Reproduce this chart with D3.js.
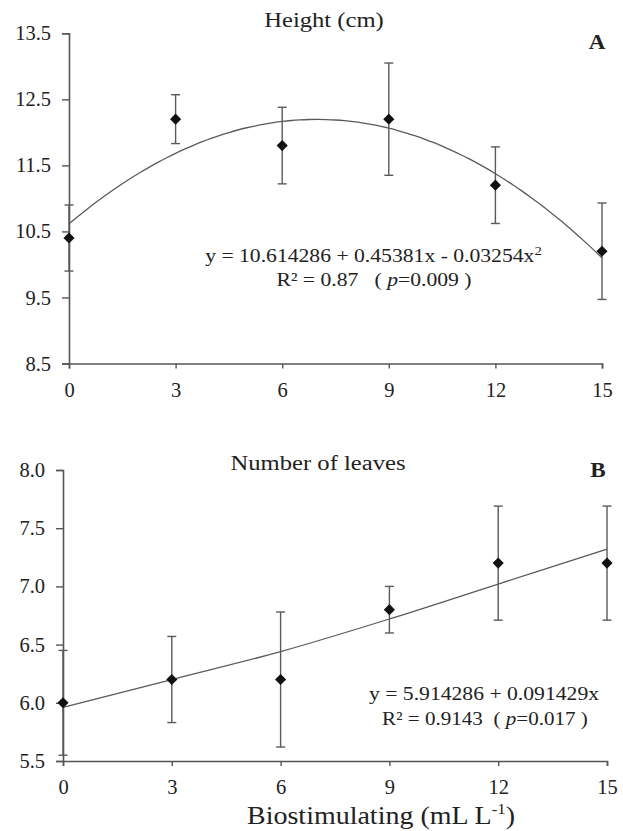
<!DOCTYPE html>
<html>
<head>
<meta charset="utf-8">
<script src="https://cdn.jsdelivr.net/npm/d3@7"></script>
<style>
  body { margin: 0; background: #fff; }
  svg { display: block; }
  svg text { font-family: "Liberation Serif", Tinos, "Times New Roman", Times, "DejaVu Serif", serif !important; fill: #222; }
</style>
</head>
<body>
<svg id="chart" width="623" height="831"></svg>
<script>
// ---- Data ----
const doses = [0, 3, 6, 9, 12, 15];
const xTicks = [0, 3, 6, 9, 12, 15];

// Panel A: Height (cm)
const heightMean = [10.4, 12.2, 11.8, 12.2, 11.2, 10.2];
const heightErr  = [0.5, 0.37, 0.58, 0.85, 0.58, 0.73];
const heightTicks = [8.5, 9.5, 10.5, 11.5, 12.5, 13.5];
const heightCoef = [10.614286, 0.45381, -0.03254];

// Panel B: Number of leaves
const leavesMean = [6.0, 6.2, 6.2, 6.8, 7.2, 7.2];
const leavesErr  = [0.45, 0.37, 0.58, 0.2, 0.49, 0.49];
const leavesTicks = [5.5, 6.0, 6.5, 7.0, 7.5, 8.0];
const leavesFit  = [5.96, 6.2, 6.44, 6.72, 7.02, 7.32];

const svg = d3.select("#chart");
const lineColor = "#5a5a5a";
const axisColor = "#555";
const serif = '"Liberation Serif", Tinos, "Times New Roman", Times, "DejaVu Serif", serif';
const SX = 1.14;

// horizontally stretched text (source typeface is wider than Times)
function stext(parent, x, y, size, sx) {
  return parent.append("g").attr("transform", `translate(${x},${y}) scale(${sx},1)`)
    .append("text").attr("x", 0).attr("y", 0).attr("text-anchor", "middle")
    .attr("font-size", size).style("white-space", "pre");
}

function panel(cfg) {
  const g = svg.append("g");
  const x = d3.scaleLinear().domain([0, 15]).range(cfg.xRange);
  const y = d3.scaleLinear().domain(cfg.yDomain).range(cfg.yRange);

  const ya = g.append("g").attr("transform", `translate(${cfg.xRange[0]},0)`)
    .call(d3.axisLeft(y).tickValues(cfg.yTicks).tickSize(7).tickPadding(11)
      .tickFormat(d3.format(".1f")));
  const xa = g.append("g").attr("transform", `translate(0,${cfg.yRange[0]})`)
    .call(d3.axisBottom(x).tickValues(xTicks).tickSize(5).tickPadding(cfg.xPad)
      .tickFormat(d3.format("d")));
  [ya, xa].forEach(a => {
    a.attr("font-family", serif);
    a.select(".domain").attr("stroke", axisColor).attr("stroke-width", 1.6);
    a.selectAll(".tick line").attr("stroke", axisColor).attr("stroke-width", 1.4);
    a.selectAll(".tick text").attr("font-size", 20.5).attr("fill", "#333");
  });

  g.append("path")
    .datum(cfg.fit)
    .attr("fill", "none")
    .attr("stroke", lineColor)
    .attr("stroke-width", 1.3)
    .attr("d", d3.line().x(d => x(d[0])).y(d => y(d[1])).curve(d3.curveMonotoneX));

  const eb = g.append("g").attr("stroke", lineColor).attr("stroke-width", 1.4);
  doses.forEach((d, i) => {
    const m = cfg.mean[i], e = cfg.err[i];
    eb.append("line").attr("x1", x(d)).attr("x2", x(d)).attr("y1", y(m + e)).attr("y2", y(m - e));
    [m + e, m - e].forEach(v => {
      eb.append("line").attr("x1", x(d) - 4.5).attr("x2", x(d) + 4.5).attr("y1", y(v)).attr("y2", y(v));
    });
  });

  const sym = d3.symbol().type(d3.symbolSquare).size(62);
  g.selectAll(".pt").data(doses).enter().append("path")
    .attr("d", sym)
    .attr("fill", "#111")
    .attr("transform", (d, i) => `translate(${x(d)},${y(cfg.mean[i])}) rotate(45)`);

  stext(g, cfg.titleX, cfg.titleY, 21.6, SX).text(cfg.title);
  stext(g, cfg.letterX, cfg.letterY, 22, 1.05).attr("font-weight", "bold").text(cfg.letter);
  return { x, y, g };
}

const fitA = d3.range(0, 15.01, 0.25).map(v => [v, heightCoef[0] + heightCoef[1] * v + heightCoef[2] * v * v]);
const A = panel({
  xRange: [69, 602], yRange: [363.5, 33.3], yDomain: [8.5, 13.5], yTicks: heightTicks,
  mean: heightMean, err: heightErr, fit: fitA, xPad: 14,
  title: "Height (cm)", titleX: 324, titleY: 27, letter: "A", letterX: 597, letterY: 49
});
const eqA = stext(A.g, 373.5, 262, 19, SX);
eqA.append("tspan").text("y = 10.614286 + 0.45381x - 0.03254x");
eqA.append("tspan").attr("dy", -7).attr("font-size", 13).text("2");
const rA = stext(A.g, 374, 286, 19, SX);
rA.append("tspan").text("R² = 0.87   ( ");
rA.append("tspan").attr("font-style", "italic").text("p");
rA.append("tspan").text("=0.009 )");

const fitB = doses.map((d, i) => [d, leavesFit[i]]);
const B = panel({
  xRange: [63, 607], yRange: [761, 470], yDomain: [5.5, 8.0], yTicks: leavesTicks,
  mean: leavesMean, err: leavesErr, fit: fitB, xPad: 13,
  title: "Number of leaves", titleX: 318, titleY: 470, letter: "B", letterX: 598, letterY: 477
});
stext(B.g, 484, 700, 19, SX).text("y = 5.914286 + 0.091429x");
const rB = stext(B.g, 485, 725, 19, 1.11);
rB.append("tspan").text("R² = 0.9143  ( ");
rB.append("tspan").attr("font-style", "italic").text("p");
rB.append("tspan").text("=0.017 )");

const xt = stext(svg, 381, 824, 25, 1.12);
xt.append("tspan").text("Biostimulating (mL L");
xt.append("tspan").attr("dy", -10).attr("font-size", 15).text("-1");
xt.append("tspan").attr("dy", 10).text(")");
</script>
</body>
</html>
